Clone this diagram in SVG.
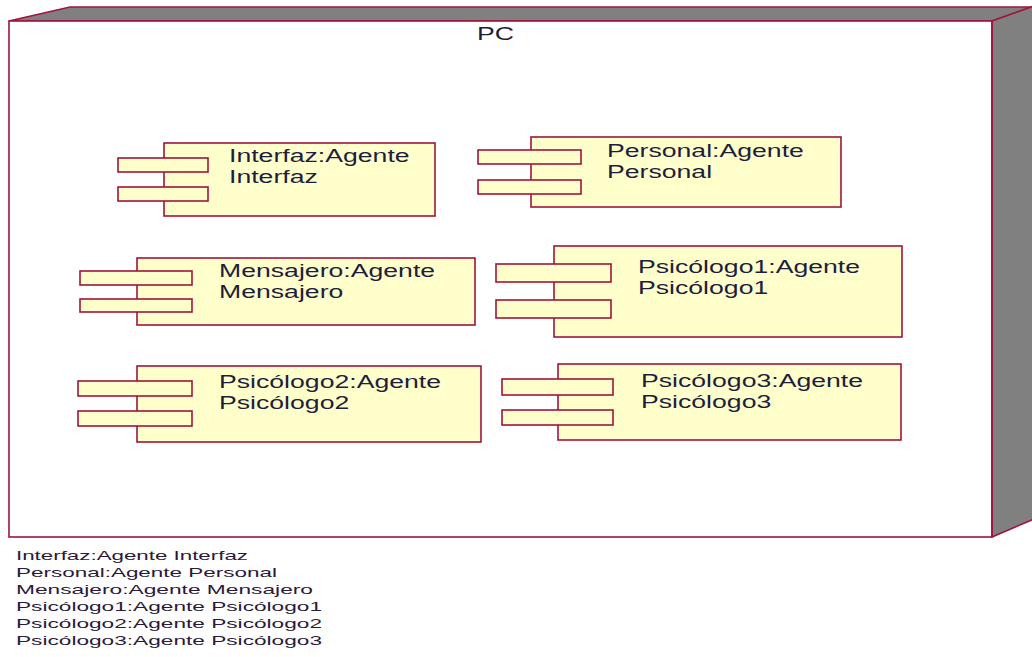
<svg xmlns="http://www.w3.org/2000/svg" width="1032" height="657" viewBox="0 0 1032 657">
  <style>
    .edge { stroke: #a0143c; stroke-width: 1.6; }
    .face { fill: #808080; }
    .front { fill: #ffffff; }
    .comp { fill: #ffffcc; stroke: #a0143c; stroke-width: 1.6; }
    .lbl { font-family: "Liberation Sans", Arial, sans-serif; font-size: 18.5px; fill: #1e1e3c; }
    .note { font-family: "Liberation Sans", Arial, sans-serif; font-size: 13.5px; fill: #2a1a3a; }
  </style>

  <rect width="1032" height="657" fill="#ffffff"/>

  <!-- deployment node "PC" (3D box) -->
  <g id="node-pc">
    <polygon class="face edge" points="9,21 70,7 1034,7 992,21"/>
    <polygon class="face edge" points="992,21 1034,6 1034,519 992,537"/>
    <rect class="front edge" x="9" y="21" width="983" height="516"/>
    <line class="edge" x1="992" y1="21" x2="992" y2="537" stroke-width="2.6"/>
    <text class="lbl" transform="translate(477,40) scale(1.44,1)">PC</text>
  </g>

  <!-- components -->
  <g id="comp-interfaz">
    <rect class="comp" x="164" y="143" width="271" height="73"/>
    <rect class="comp" x="118" y="158" width="90" height="14"/>
    <rect class="comp" x="118" y="187" width="90" height="14"/>
    <text class="lbl" transform="translate(229,162) scale(1.44,1)">Interfaz:Agente<tspan x="0" dy="21.5">Interfaz</tspan></text>
  </g>

  <g id="comp-personal">
    <rect class="comp" x="531" y="137" width="310" height="70"/>
    <rect class="comp" x="478" y="150" width="103" height="14"/>
    <rect class="comp" x="478" y="180" width="103" height="14"/>
    <text class="lbl" transform="translate(607,157) scale(1.44,1)">Personal:Agente<tspan x="0" dy="21.5">Personal</tspan></text>
  </g>

  <g id="comp-mensajero">
    <rect class="comp" x="137" y="258" width="338" height="67"/>
    <rect class="comp" x="80" y="271" width="112" height="14"/>
    <rect class="comp" x="80" y="299" width="112" height="13"/>
    <text class="lbl" transform="translate(219,277) scale(1.44,1)">Mensajero:Agente<tspan x="0" dy="21.5">Mensajero</tspan></text>
  </g>

  <g id="comp-psicologo1">
    <rect class="comp" x="554" y="246" width="348" height="91"/>
    <rect class="comp" x="496" y="264" width="115" height="18"/>
    <rect class="comp" x="496" y="300" width="115" height="18"/>
    <text class="lbl" transform="translate(638,273) scale(1.44,1)">Psicólogo1:Agente<tspan x="0" dy="21.5">Psicólogo1</tspan></text>
  </g>

  <g id="comp-psicologo2">
    <rect class="comp" x="137" y="366" width="344" height="76"/>
    <rect class="comp" x="78" y="381" width="114" height="15"/>
    <rect class="comp" x="78" y="411" width="114" height="15"/>
    <text class="lbl" transform="translate(219,388) scale(1.44,1)">Psicólogo2:Agente<tspan x="0" dy="21.5">Psicólogo2</tspan></text>
  </g>

  <g id="comp-psicologo3">
    <rect class="comp" x="558" y="364" width="343" height="76"/>
    <rect class="comp" x="502" y="379" width="111" height="16"/>
    <rect class="comp" x="502" y="410" width="111" height="15"/>
    <text class="lbl" transform="translate(641,387) scale(1.44,1)">Psicólogo3:Agente<tspan x="0" dy="21.5">Psicólogo3</tspan></text>
  </g>

  <!-- no connectors between components -->
  <g id="connectors"/>

  <!-- legend under the node -->
  <g id="legend">
    <text class="note" x="16" y="560" textLength="232" lengthAdjust="spacingAndGlyphs">Interfaz:Agente Interfaz</text>
    <text class="note" x="16" y="577" textLength="261" lengthAdjust="spacingAndGlyphs">Personal:Agente Personal</text>
    <text class="note" x="16" y="594" textLength="297" lengthAdjust="spacingAndGlyphs">Mensajero:Agente Mensajero</text>
    <text class="note" x="16" y="611" textLength="306" lengthAdjust="spacingAndGlyphs">Psicólogo1:Agente Psicólogo1</text>
    <text class="note" x="16" y="628" textLength="306" lengthAdjust="spacingAndGlyphs">Psicólogo2:Agente Psicólogo2</text>
    <text class="note" x="16" y="645" textLength="306" lengthAdjust="spacingAndGlyphs">Psicólogo3:Agente Psicólogo3</text>
  </g>
</svg>
